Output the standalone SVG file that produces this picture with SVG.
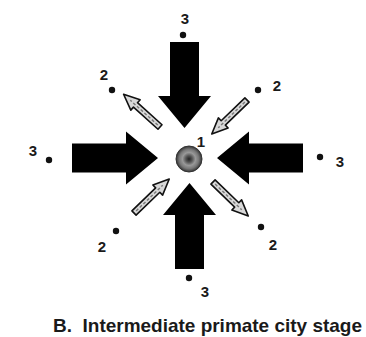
<svg xmlns="http://www.w3.org/2000/svg" width="366" height="337" viewBox="0 0 366 337">
<style>
.lbl{font-family:"Liberation Sans",Arial,sans-serif;font-weight:bold;font-size:15px;fill:#1a1a1a}
.cap{font-family:"Liberation Sans",Arial,sans-serif;font-weight:bold;font-size:19px;fill:#1a1a1a}
.dot{fill:#111}
.big{fill:#000}
.small{fill:#d8d8d8;stroke:#111;stroke-width:1.6;stroke-linejoin:round}
.core{stroke:#777;stroke-width:1.4;stroke-dasharray:3 2}
</style>
<defs>
<path id="bigArrow" class="big" d="M0,0 L-26.5,-32 L-14.5,-32 L-14.5,-86 L14.5,-86 L14.5,-32 L26.5,-32 Z"/>
<g id="smallArrow">
<path class="small" d="M0,-3 L33,-3 L33,-7 L49,0 L33,7 L33,3 L0,3 Z"/>
<line class="core" x1="3" y1="0" x2="40" y2="0"/>
</g>
<radialGradient id="cityGrad" cx="0.5" cy="0.5" r="0.5">
<stop offset="0" stop-color="#222"/>
<stop offset="0.25" stop-color="#555"/>
<stop offset="0.5" stop-color="#999"/>
<stop offset="0.75" stop-color="#777"/>
<stop offset="1" stop-color="#333"/>
</radialGradient>
</defs>
<g id="connectors">
<use href="#bigArrow" transform="translate(184.5,128)"/>
<use href="#bigArrow" transform="translate(189.5,183) rotate(180)"/>
<use href="#bigArrow" transform="translate(158,158) rotate(-90)"/>
<use href="#bigArrow" transform="translate(217,158) rotate(90)"/>
<use href="#smallArrow" transform="translate(160,127) rotate(-138)"/>
<use href="#smallArrow" transform="translate(247,100) rotate(136)"/>
<use href="#smallArrow" transform="translate(134,213) rotate(-44)"/>
<use href="#smallArrow" transform="translate(213,182) rotate(44)"/>
</g>
<g id="city1">
<circle cx="189" cy="159" r="13" fill="url(#cityGrad)" stroke="#333" stroke-width="1"/>
<text class="lbl" x="201" y="147" text-anchor="middle">1</text>
</g>
<g id="top3"><circle class="dot" cx="183" cy="35" r="3.2"/><text class="lbl" x="185" y="24" text-anchor="middle">3</text></g>
<g id="bottom3"><circle class="dot" cx="189" cy="278" r="3.2"/><text class="lbl" x="205" y="297" text-anchor="middle">3</text></g>
<g id="left3"><circle class="dot" cx="49" cy="160" r="3.2"/><text class="lbl" x="33" y="156" text-anchor="middle">3</text></g>
<g id="right3"><circle class="dot" cx="320" cy="157" r="3.2"/><text class="lbl" x="340" y="167" text-anchor="middle">3</text></g>
<g id="topLeft2"><circle class="dot" cx="112" cy="90" r="3.2"/><text class="lbl" x="104" y="80" text-anchor="middle">2</text></g>
<g id="topRight2"><circle class="dot" cx="258" cy="90" r="3.2"/><text class="lbl" x="277" y="91" text-anchor="middle">2</text></g>
<g id="bottomLeft2"><circle class="dot" cx="116" cy="231" r="3.2"/><text class="lbl" x="102" y="252" text-anchor="middle">2</text></g>
<g id="bottomRight2"><circle class="dot" cx="261" cy="227" r="3.2"/><text class="lbl" x="273" y="250" text-anchor="middle">2</text></g>
<text class="cap" x="53" y="332" textLength="309" lengthAdjust="spacingAndGlyphs" xml:space="preserve">B.  Intermediate primate city stage</text>
</svg>
